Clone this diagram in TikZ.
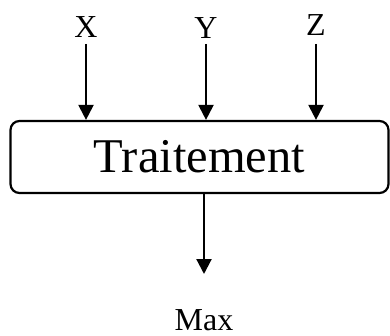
\documentclass[tikz,border=0pt]{standalone}
\usepackage{fontspec}
\setmainfont{Liberation Serif}
\usetikzlibrary{arrows.meta}
\begin{document}
\begin{tikzpicture}[x=1pt,y=-1pt,
  lbl/.style={inner sep=0pt,font=\fontsize{32}{36}\selectfont},
  arr/.style={line width=2.2pt,-{Triangle[length=15pt,width=15pt]}},
  boxst/.style={draw,line width=2.2pt,rounded corners=9pt,minimum width=378pt,minimum height=72pt,inner sep=0pt,font=\fontsize{48.5}{56}\selectfont}]
\useasboundingbox (0,0) rectangle (390,336);
\node[boxst] (box) at (199.5,157) {Traitement};
\node[lbl] (x) at (86,27) {X};
\node[lbl] (y) at (206,28) {Y};
\node[lbl] (z) at (316,25) {Z};
\node[lbl] (max) at (204,320) {Max};
\coordinate (xs) at (86,44);
\coordinate (ys) at (206,44);
\coordinate (zs) at (316,44);
\coordinate (mo) at (204,274);
\draw[arr] (xs) -- (xs |- box.north);
\draw[arr] (ys) -- (ys |- box.north);
\draw[arr] (zs) -- (zs |- box.north);
\draw[arr] (mo |- box.south) -- (mo);
\end{tikzpicture}
\end{document}
